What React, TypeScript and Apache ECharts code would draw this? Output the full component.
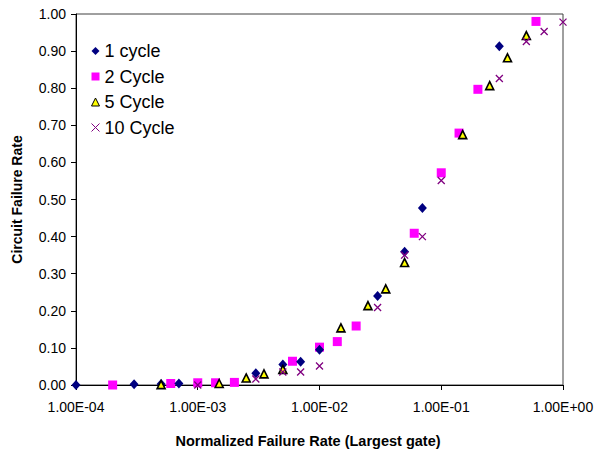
import React, { useEffect, useRef } from "react";
import * as echarts from "echarts";

const seriesNames = ["1 cycle", "2 Cycle", "5 Cycle", "10 Cycle"];

const cycle1: [number, number][] = [
  [1e-4, 0], [3e-4, 0.002], [5e-4, 0.003], [7e-4, 0.004], [3e-3, 0.032], [5e-3, 0.055],
  [7e-3, 0.063], [1e-2, 0.095], [3e-2, 0.24], [5e-2, 0.359], [7e-2, 0.477], [3e-1, 0.913],
];
const cycle2: [number, number][] = [
  [2e-4, 0], [6e-4, 0.004], [1e-3, 0.006], [1.4e-3, 0.006], [2e-3, 0.007], [6e-3, 0.064],
  [1e-2, 0.102], [1.4e-2, 0.117], [2e-2, 0.159], [6e-2, 0.409], [1e-1, 0.572], [1.4e-1, 0.679],
  [2e-1, 0.797], [6e-1, 0.98],
];
const cycle5: [number, number][] = [
  [5e-4, 0.001], [1.5e-3, 0.004], [2.5e-3, 0.019], [3.5e-3, 0.03], [5e-3, 0.042], [1.5e-2, 0.154],
  [2.5e-2, 0.214], [3.5e-2, 0.259], [5e-2, 0.33], [1.5e-1, 0.675], [2.5e-1, 0.807], [3.5e-1, 0.882],
  [5e-1, 0.942],
];
const cycle10: [number, number][] = [
  [1e-3, 0], [3e-3, 0.016], [5e-3, 0.035], [7e-3, 0.035], [1e-2, 0.051], [3e-2, 0.209],
  [5e-2, 0.35], [7e-2, 0.4], [1e-1, 0.551], [3e-1, 0.826], [5e-1, 0.926], [7e-1, 0.953], [1, 0.978],
];

const xTitle = "Normalized Failure Rate (Largest gate)";
const yTitle = "Circuit Failure Rate";

const FONT = "'Liberation Sans', Arial, sans-serif";

function fmtExp(v: number): string {
  const s = v.toExponential(2).toUpperCase();
  const [m, e] = s.split("E");
  const sign = e[0] === "-" ? "-" : "+";
  const digits = e.replace(/[+-]/, "").padStart(2, "0");
  return `${m}E${sign}${digits}`;
}

export default function App() {
  const ref = useRef<HTMLDivElement>(null);
  useEffect(() => {
    if (!ref.current) return;
    const chart = echarts.init(ref.current, undefined, { renderer: "svg" });
    chart.setOption({
      animation: false,
      backgroundColor: "#ffffff",
      textStyle: { fontFamily: FONT },
      grid: {
        left: 76,
        right: 46,
        top: 14,
        bottom: 70,
        show: true,
        borderColor: "#404040",
        borderWidth: 1,
      },
      graphic: [
        {
          type: "text",
          x: 308,
          y: 441,
          style: {
            text: xTitle,
            fontSize: 14.5,
            fontWeight: "bold",
            fill: "#000",
            fontFamily: FONT,
            textAlign: "center",
            textVerticalAlign: "middle",
          },
        },
      ],
      legend: {
        orient: "vertical",
        left: 86,
        top: 37,
        itemGap: 7.5,
        itemWidth: 8,
        itemHeight: 8,
        textStyle: { fontSize: 18, lineHeight: 18, color: "#000", fontFamily: FONT },
        data: [
          { name: seriesNames[0], itemStyle: { color: "#000080" } },
          { name: seriesNames[1], itemStyle: { color: "#FF00FF" } },
          { name: seriesNames[2], itemStyle: { color: "#FFFF00", borderColor: "#000", borderWidth: 1 } },
          { name: seriesNames[3], itemStyle: { color: "#800080", borderColor: "#800080", borderWidth: 1 } },
        ],
      },
      xAxis: {
        type: "log",
        logBase: 10,
        min: 1e-4,
        max: 1,
        axisLine: { lineStyle: { color: "#000", width: 1 } },
        axisTick: { show: true, inside: false, length: 5, lineStyle: { color: "#000" } },
        minorTick: { show: false },
        splitLine: { show: false },
        axisLabel: {
          fontSize: 14,
          color: "#000",
          margin: 15,
          fontFamily: FONT,
          formatter: (v: number) => fmtExp(v),
        },
      },
      yAxis: {
        type: "value",
        min: 0,
        max: 1,
        interval: 0.1,
        name: yTitle,
        nameLocation: "middle",
        nameGap: 52,
        nameTextStyle: { fontSize: 14, fontWeight: "bold", color: "#000", fontFamily: FONT },
        axisLine: { show: true, lineStyle: { color: "#000", width: 1 } },
        axisTick: { show: true, inside: false, length: 5, lineStyle: { color: "#000" } },
        splitLine: { show: false },
        axisLabel: {
          fontSize: 14,
          color: "#000",
          margin: 10,
          fontFamily: FONT,
          formatter: (v: number) => v.toFixed(2),
        },
      },
      series: [
        {
          name: seriesNames[0],
          type: "scatter",
          data: cycle1,
          symbol: "diamond",
          symbolSize: [9, 10],
          itemStyle: { color: "#000080", opacity: 1 },
          z: 4,
        },
        {
          name: seriesNames[1],
          type: "scatter",
          data: cycle2,
          symbol: "rect",
          symbolSize: 9,
          itemStyle: { color: "#FF00FF", opacity: 1 },
          z: 3,
        },
        {
          name: seriesNames[2],
          type: "scatter",
          data: cycle5,
          symbol: "triangle",
          symbolSize: [8, 8],
          itemStyle: { color: "#FFFF00", borderColor: "#000", borderWidth: 1.6, opacity: 1 },
          z: 5,
        },
        {
          name: seriesNames[3],
          type: "scatter",
          data: cycle10,
          symbol: "path://M0,0L10,10M10,0L0,10",
          symbolSize: 7,
          itemStyle: { color: "#800080", borderColor: "#800080", borderWidth: 1.3, opacity: 1 },
          z: 6,
        },
      ],
    });
    return () => chart.dispose();
  }, []);
  return <div ref={ref} style={{ width: 609, height: 455, position: "absolute", left: 0, top: 0 }} />;
}
